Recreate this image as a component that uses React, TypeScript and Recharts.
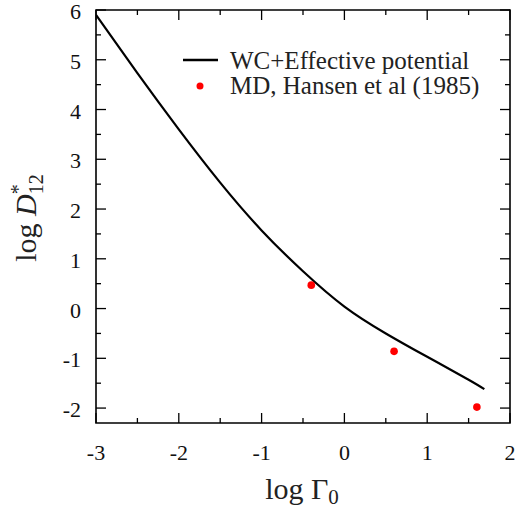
import React from 'react';
import { ComposedChart, Line, Scatter, XAxis, YAxis, Legend, ReferenceArea } from 'recharts';

// WC + effective potential curve
const curveX = [-3, -2.5, -2, -1.5, -1, -0.5, 0, 0.5, 1, 1.5, 1.69];
const curveY = [5.9, 4.73, 3.6, 2.53, 1.57, 0.75, 0.04, -0.5, -0.97, -1.43, -1.62];

// MD, Hansen et al (1985)
const mdX = [-0.4, 0.6, 1.6];
const mdY = [0.47, -0.86, -1.98];

const xTicks = [-3, -2.5, -2, -1.5, -1, -0.5, 0, 0.5, 1, 1.5, 2];
const yTicks = [-2, -1.5, -1, -0.5, 0, 0.5, 1, 1.5, 2, 2.5, 3, 3.5, 4, 4.5, 5, 5.5, 6];

const curve = curveX.map((x, i) => ({ x, y: curveY[i] }));
const md = mdX.map((x, i) => ({ x, y: mdY[i] }));

const W = 518;
const H = 508;
const M = { top: 10, right: 8, left: 0, bottom: 0 };
const Y_W = 96;
const X_H = 85;
const PL = M.left + Y_W;
const PR = W - M.right;
const PT = M.top;
const PB = H - X_H;

const FONT = '"Liberation Serif", "Times New Roman", serif';

const isMajor = (v: number) => Number.isInteger(v);

function YTick(props: any) {
  const { y, payload } = props;
  const v = payload.value;
  const len = isMajor(v) ? 10 : 5;
  return (
    <g>
      <line x1={PL} x2={PL + len} y1={y} y2={y} stroke="#000" strokeWidth={1.3} />
      <line x1={PR - len} x2={PR} y1={y} y2={y} stroke="#000" strokeWidth={1.3} />
      {isMajor(v) && (
        <text x={81} y={y} dy={9} textAnchor="end" fontSize={22} fontFamily={FONT} fill="#111">
          {v}
        </text>
      )}
    </g>
  );
}

function XTick(props: any) {
  const { x, payload } = props;
  const v = payload.value;
  const len = isMajor(v) ? 10 : 5;
  return (
    <g>
      <line x1={x} x2={x} y1={PB} y2={PB - len} stroke="#000" strokeWidth={1.3} />
      <line x1={x} x2={x} y1={PT} y2={PT + len} stroke="#000" strokeWidth={1.3} />
      {isMajor(v) && (
        <text x={x} y={460} textAnchor="middle" fontSize={22} fontFamily={FONT} fill="#111">
          {v}
        </text>
      )}
    </g>
  );
}

function XTitle() {
  return (
    <text x={302} y={499} textAnchor="middle" fontSize={30} fontFamily={FONT} fill="#222">
      log Γ<tspan fontSize={21} dy={5}>0</tspan>
    </text>
  );
}

function YTitle() {
  const cx = 36;
  const cy = 218;
  return (
    <text
      x={cx}
      y={cy}
      transform={`rotate(-90 ${cx} ${cy})`}
      textAnchor="middle"
      fontSize={30}
      fontFamily={FONT}
      fill="#222"
    >
      log <tspan fontStyle="italic">D</tspan>
      <tspan fontSize={20} dy={-11}>*</tspan>
      <tspan fontSize={20} dx={-10} dy={18}>12</tspan>
    </text>
  );
}

function LegendBox() {
  const row: React.CSSProperties = { display: 'flex', alignItems: 'center', height: 25 };
  return (
    <div style={{ fontFamily: FONT, fontSize: 25, lineHeight: '25px', color: '#222' }}>
      <div style={row}>
        <svg width={50} height={25}>
          <line x1={3} x2={38} y1={12} y2={12} stroke="#000" strokeWidth={2.5} />
        </svg>
        <span style={{ whiteSpace: 'nowrap' }}>WC+Effective potential</span>
      </div>
      <div style={row}>
        <svg width={50} height={25}>
          <circle cx={20} cy={13} r={3.5} fill="#ff0000" />
        </svg>
        <span style={{ whiteSpace: 'nowrap' }}>MD, Hansen et al (1985)</span>
      </div>
    </div>
  );
}

export default function App() {
  return (
    <div style={{ position: 'absolute', left: 0, top: 0, width: W, height: H, background: '#fff' }}>
      <ComposedChart width={W} height={H} margin={M}>
        <XAxis
          dataKey="x"
          type="number"
          domain={[-3, 2]}
          ticks={xTicks}
          interval={0}
          height={X_H}
          axisLine={false}
          tickLine={false}
          tick={(p: any) => <XTick {...p} />}
          label={{ content: () => <XTitle /> }}
          allowDataOverflow
        />
        <YAxis
          dataKey="y"
          type="number"
          domain={[-2.3, 6]}
          ticks={yTicks}
          interval={0}
          width={Y_W}
          axisLine={false}
          tickLine={false}
          tick={(p: any) => <YTick {...p} />}
          label={{ content: () => <YTitle /> }}
          allowDataOverflow
        />
        <ReferenceArea x1={-3} x2={2} y1={-2.3} y2={6} fill="none" stroke="#000" strokeWidth={1.6} />
        <Legend
          layout="horizontal"
          verticalAlign="middle"
          align="center"
          wrapperStyle={{ position: 'absolute', top: 48, left: 180, width: 'auto', height: 'auto' }}
          content={() => <LegendBox />}
        />
        <Line
          data={curve}
          dataKey="y"
          type="natural"
          stroke="#000"
          strokeWidth={2.2}
          dot={false}
          isAnimationActive={false}
        />
        <Scatter
          data={md}
          dataKey="y"
          fill="#ff0000"
          shape={(p: any) => <circle cx={p.cx} cy={p.cy} r={3.8} fill="#ff0000" />}
          isAnimationActive={false}
        />
      </ComposedChart>
    </div>
  );
}
